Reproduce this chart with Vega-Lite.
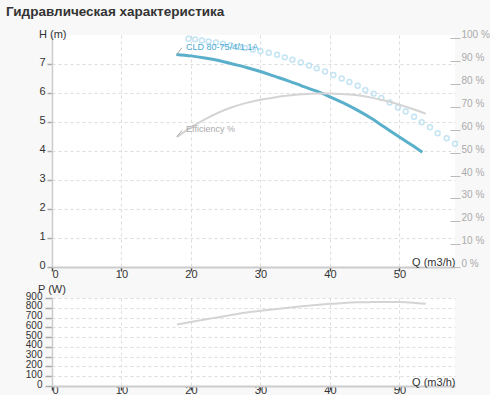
{
  "$schema": "https://vega.github.io/schema/vega-lite/v6.json",
  "background": "#f8f8f8",
  "padding": {"left": 6, "top": 4, "right": 0, "bottom": 0},
  "title": {
    "text": "Гидравлическая характеристика",
    "anchor": "start",
    "frame": "group",
    "dx": -46,
    "offset": 10,
    "fontSize": 13.5,
    "fontWeight": "bold",
    "color": "#333333"
  },
  "config": {
    "font": "Liberation Sans",
    "view": {"fill": "white", "stroke": null},
    "axis": {
      "labelFontSize": 11,
      "labelColor": "#333333",
      "titleFontSize": 11,
      "titleFontWeight": "normal",
      "titleColor": "#333333",
      "gridColor": "#dddddd",
      "gridDash": [3, 3],
      "domainColor": "#cccccc",
      "labelOverlap": false
    }
  },
  "datasets": {
    "head": [
      {"Q": 17.9, "H": 7.33}, {"Q": 20, "H": 7.28}, {"Q": 22, "H": 7.21},
      {"Q": 24, "H": 7.12}, {"Q": 26, "H": 7.0}, {"Q": 28, "H": 6.88},
      {"Q": 30, "H": 6.74}, {"Q": 32, "H": 6.58}, {"Q": 34, "H": 6.42},
      {"Q": 36, "H": 6.24}, {"Q": 38, "H": 6.07}, {"Q": 40, "H": 5.87},
      {"Q": 42, "H": 5.65}, {"Q": 44, "H": 5.4}, {"Q": 46, "H": 5.12},
      {"Q": 48, "H": 4.8}, {"Q": 50, "H": 4.48}, {"Q": 52, "H": 4.17},
      {"Q": 53.3, "H": 3.96}
    ],
    "eff": [
      {"Q": 18, "E": 56.9}, {"Q": 20, "E": 61.1}, {"Q": 22, "E": 64.6},
      {"Q": 24, "E": 67.6}, {"Q": 26, "E": 70.0}, {"Q": 28, "E": 71.8},
      {"Q": 30, "E": 73.2}, {"Q": 32, "E": 74.2}, {"Q": 34, "E": 75.0},
      {"Q": 36, "E": 75.6}, {"Q": 38, "E": 75.9}, {"Q": 40, "E": 75.9},
      {"Q": 42, "E": 75.6}, {"Q": 44, "E": 75.1}, {"Q": 46, "E": 74.1},
      {"Q": 48, "E": 72.7}, {"Q": 50, "E": 71.0}, {"Q": 52, "E": 69.0},
      {"Q": 53.8, "E": 67.0}
    ],
    "dots": [
      {"Q": 19.65, "H": 7.87}, {"Q": 20.6, "H": 7.85}, {"Q": 21.57, "H": 7.81},
      {"Q": 22.53, "H": 7.78}, {"Q": 23.6, "H": 7.74}, {"Q": 24.6, "H": 7.7},
      {"Q": 25.7, "H": 7.65}, {"Q": 26.8, "H": 7.6}, {"Q": 27.8, "H": 7.55},
      {"Q": 28.9, "H": 7.5}, {"Q": 30.0, "H": 7.45}, {"Q": 31.2, "H": 7.39},
      {"Q": 32.4, "H": 7.32}, {"Q": 33.5, "H": 7.23}, {"Q": 34.6, "H": 7.15},
      {"Q": 35.8, "H": 7.05}, {"Q": 37.0, "H": 6.95}, {"Q": 38.1, "H": 6.85},
      {"Q": 39.3, "H": 6.74}, {"Q": 40.5, "H": 6.62}, {"Q": 41.7, "H": 6.5},
      {"Q": 42.8, "H": 6.38}, {"Q": 44.0, "H": 6.25}, {"Q": 45.1, "H": 6.1},
      {"Q": 46.3, "H": 5.98}, {"Q": 47.4, "H": 5.83}, {"Q": 48.6, "H": 5.67},
      {"Q": 49.8, "H": 5.5}, {"Q": 50.9, "H": 5.36}, {"Q": 52.1, "H": 5.18},
      {"Q": 53.2, "H": 4.99}, {"Q": 54.4, "H": 4.82}, {"Q": 55.5, "H": 4.61},
      {"Q": 56.8, "H": 4.44}, {"Q": 58.0, "H": 4.25}
    ],
    "power": [
      {"Q": 18, "P": 628}, {"Q": 20, "P": 655}, {"Q": 22, "P": 680},
      {"Q": 24, "P": 704}, {"Q": 26, "P": 728}, {"Q": 28, "P": 752},
      {"Q": 30, "P": 770}, {"Q": 32, "P": 786}, {"Q": 34, "P": 801},
      {"Q": 36, "P": 815}, {"Q": 38, "P": 828}, {"Q": 40, "P": 840},
      {"Q": 42, "P": 850}, {"Q": 44, "P": 856}, {"Q": 46, "P": 858},
      {"Q": 48, "P": 859}, {"Q": 50, "P": 858}, {"Q": 52, "P": 852},
      {"Q": 53.8, "P": 842}
    ],
    "labels": [
      {"Q": 17.95, "H": 7.33, "Q2": 18.7, "H2": 7.56, "TQ": 19.3, "TH": 7.58, "text": "CLD 80-75/4/1.1A", "kind": "model"},
      {"Q": 17.97, "H": 4.49, "Q2": 18.7, "H2": 4.71, "TQ": 19.3, "TH": 4.77, "text": "Efficiency %", "kind": "eff"}
    ]
  },
  "vconcat": [
    {
      "width": 403,
      "height": 232,
      "layer": [
        {
          "data": {"name": "head"},
          "mark": {"type": "line", "interpolate": "monotone", "color": "#5aafca", "strokeWidth": 3},
          "encoding": {
            "x": {
              "field": "Q", "type": "quantitative",
              "scale": {"domain": [0, 58], "nice": false},
              "axis": {
                "values": [0, 10, 20, 30, 40, 50],
                "title": "Q (m3/h)",
                "titleX": 403, "titleY": -2,
                "titleAlign": "right", "titleBaseline": "alphabetic",
                "tickSize": 4, "tickColor": "#444444", "tickWidth": 1.5,
                "domainWidth": 2, "labelPadding": -3
              }
            },
            "y": {
              "field": "H", "type": "quantitative",
              "scale": {"domain": [0, 8], "nice": false},
              "axis": {
                "values": [0, 1, 2, 3, 4, 5, 6, 7],
                "title": "H (m)",
                "titleAngle": 0, "titleX": -13.5, "titleY": 2,
                "titleAlign": "left", "titleBaseline": "alphabetic",
                "tickSize": 5, "tickColor": "#aaaaaa", "tickWidth": 1.5,
                "domainWidth": 1.5, "labelPadding": 2, "labelOffset": -1.5
              }
            }
          }
        },
        {
          "data": {"name": "dots"},
          "mark": {"type": "point", "shape": "circle", "filled": false, "size": 24, "color": "#acd9ef", "strokeWidth": 1.5},
          "encoding": {
            "x": {"field": "Q", "type": "quantitative"},
            "y": {"field": "H", "type": "quantitative", "scale": {"domain": [0, 8], "nice": false}, "axis": null}
          }
        },
        {
          "data": {"name": "eff"},
          "mark": {"type": "line", "interpolate": "monotone", "color": "#d4d4d4", "strokeWidth": 2},
          "encoding": {
            "x": {"field": "Q", "type": "quantitative"},
            "y": {
              "field": "E", "type": "quantitative",
              "scale": {"domain": [0, 101.5], "nice": false},
              "axis": {
                "orient": "right",
                "values": [0, 10, 20, 30, 40, 50, 60, 70, 80, 90, 100],
                "labelExpr": "datum.value + ' %'",
                "title": null, "grid": false, "domain": false,
                "offset": -5, "tickSize": 10, "tickColor": "#bbbbbb",
                "labelColor": "#aaaaaa", "labelFontSize": 10,
                "labelPadding": 1, "labelOffset": -3.5
              }
            }
          }
        },
        {
          "data": {"name": "labels"},
          "mark": {"type": "rule", "color": "#aaaaaa", "strokeWidth": 1},
          "encoding": {
            "x": {"field": "Q", "type": "quantitative"},
            "x2": {"field": "Q2"},
            "y": {"field": "H", "type": "quantitative", "scale": {"domain": [0, 8], "nice": false}, "axis": null},
            "y2": {"field": "H2"}
          }
        },
        {
          "data": {"name": "labels"},
          "mark": {"type": "text", "align": "left", "baseline": "middle", "fontSize": 9},
          "encoding": {
            "x": {"field": "TQ", "type": "quantitative"},
            "y": {"field": "TH", "type": "quantitative", "scale": {"domain": [0, 8], "nice": false}, "axis": null},
            "text": {"field": "text"},
            "color": {
              "field": "kind", "type": "nominal",
              "scale": {"domain": ["model", "eff"], "range": ["#4aa9d2", "#aaaaaa"]},
              "legend": null
            }
          }
        }
      ],
      "resolve": {"scale": {"y": "independent"}}
    },
    {
      "width": 403,
      "height": 88,
      "data": {"name": "power"},
      "mark": {"type": "line", "interpolate": "monotone", "color": "#d4d4d4", "strokeWidth": 2},
      "encoding": {
        "x": {
          "field": "Q", "type": "quantitative",
          "scale": {"domain": [0, 58], "nice": false},
          "axis": {
            "values": [0, 10, 20, 30, 40, 50],
            "title": "Q (m3/h)",
            "titleX": 403, "titleY": -1,
            "titleAlign": "right", "titleBaseline": "alphabetic",
            "tickSize": 4, "tickColor": "#444444", "tickWidth": 1.5,
            "domainWidth": 2, "labelPadding": -6
          }
        },
        "y": {
          "field": "P", "type": "quantitative",
          "scale": {"domain": [0, 900], "nice": false},
          "axis": {
            "values": [0, 100, 200, 300, 400, 500, 600, 700, 800, 900],
            "title": "P (W)",
            "titleAngle": 0, "titleX": -14.5, "titleY": -5.5,
            "titleAlign": "left", "titleBaseline": "alphabetic",
            "labelFontSize": 10,
            "tickSize": 7, "tickColor": "#aaaaaa", "tickWidth": 1.5,
            "domainWidth": 1.5, "labelPadding": 3, "labelOffset": -2
          }
        }
      }
    }
  ],
  "spacing": 31,
  "bounds": "flush"
}
